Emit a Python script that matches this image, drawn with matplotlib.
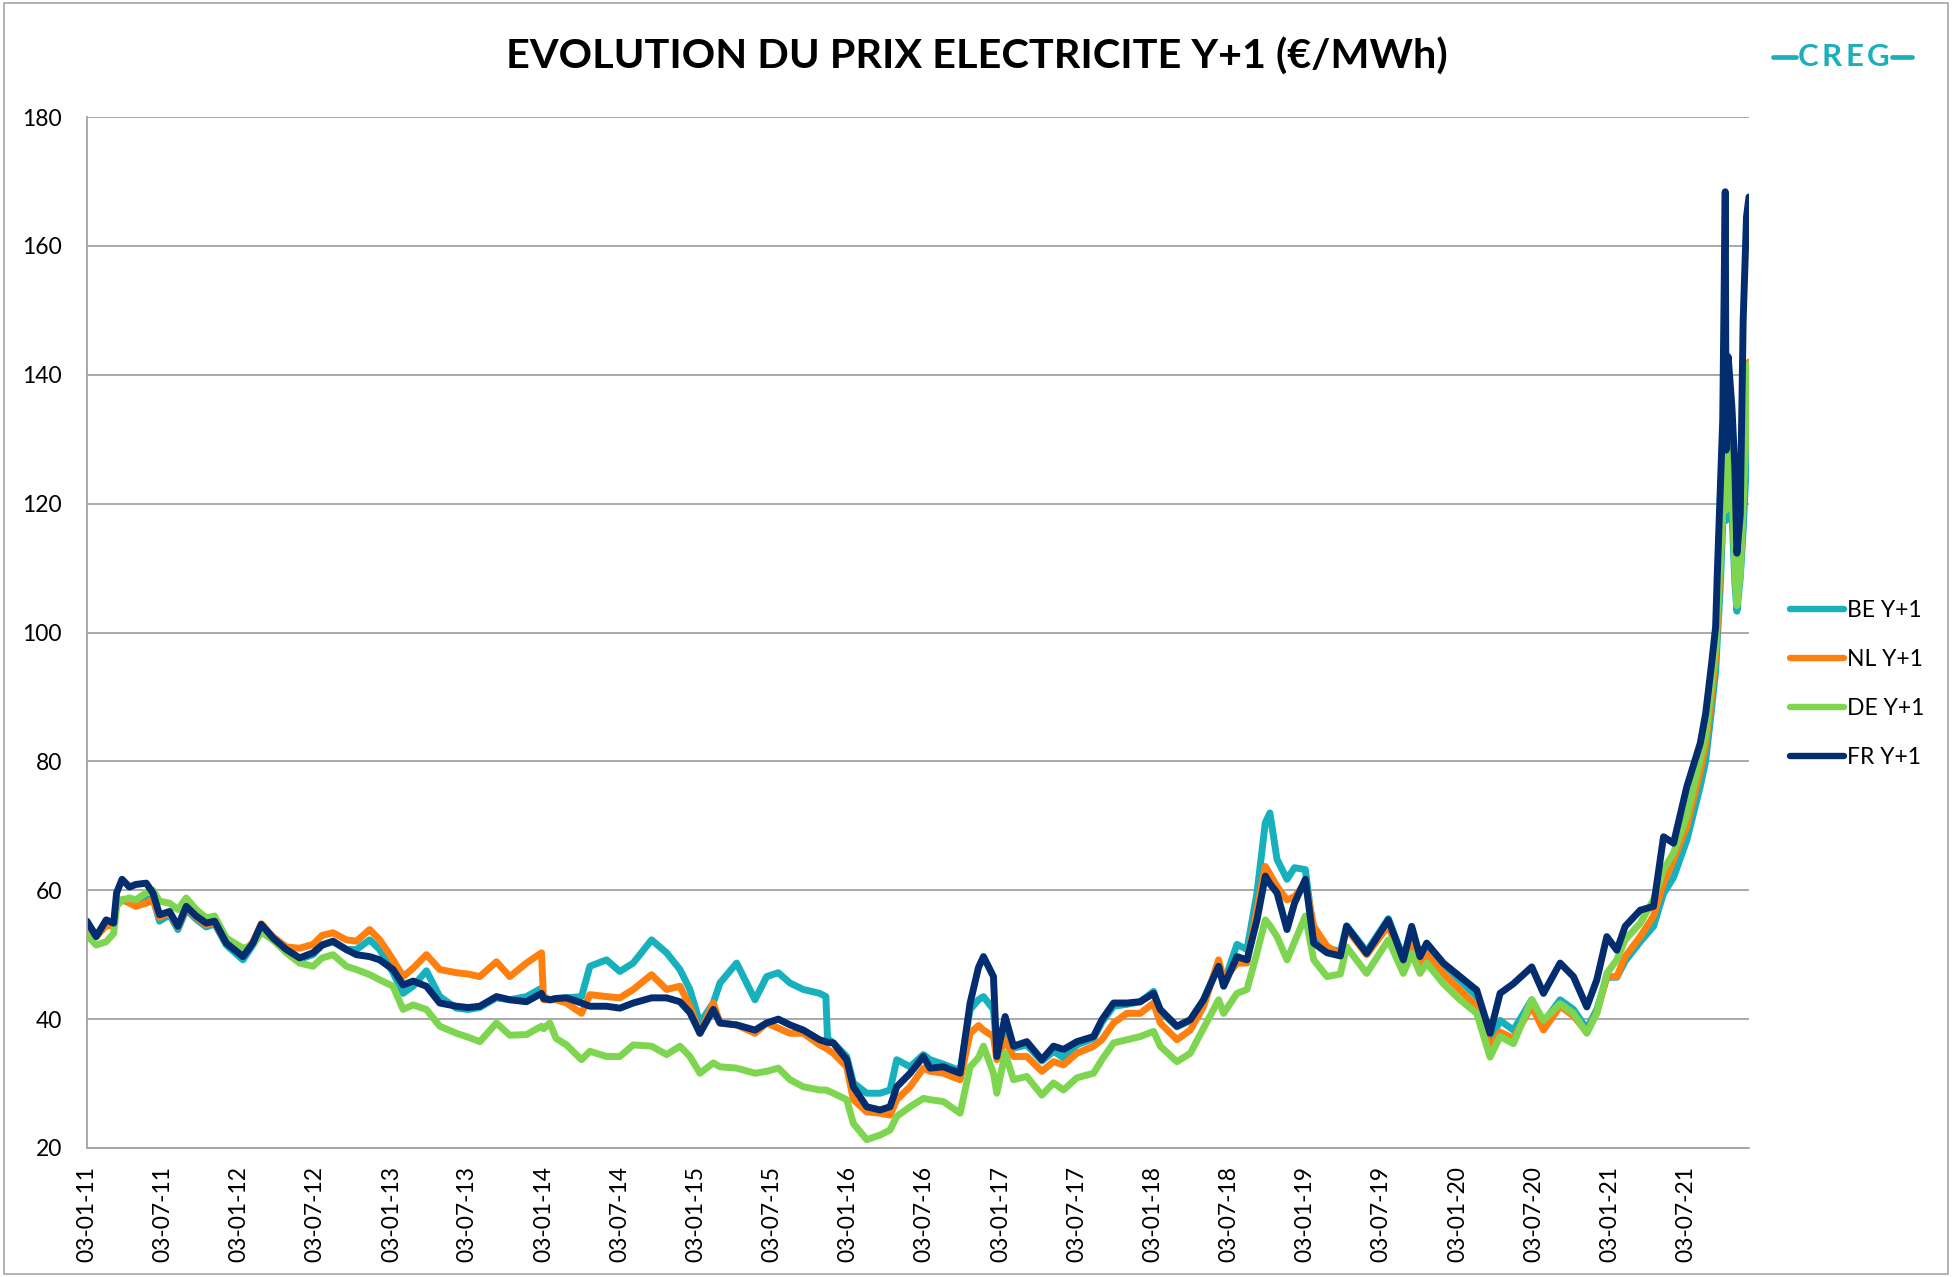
import matplotlib
matplotlib.use("Agg")
import matplotlib.pyplot as plt
import matplotlib.dates as mdates
from matplotlib.lines import Line2D
from matplotlib.patches import Rectangle
import pandas as pd

plt.rcParams['font.family'] = ['Lato', 'DejaVu Sans']

# ---------------- data ----------------
dates = [
    "2011-01-03", "2011-01-25", "2011-02-18", "2011-03-08", "2011-03-15", "2011-03-28",
    "2011-04-15", "2011-04-30", "2011-05-25", "2011-06-10", "2011-06-26", "2011-07-20",
    "2011-08-09", "2011-08-29", "2011-09-22", "2011-10-16", "2011-11-05", "2011-12-03",
    "2012-01-12", "2012-02-05", "2012-02-25", "2012-03-24", "2012-04-25", "2012-05-27",
    "2012-06-28", "2012-07-20", "2012-08-15", "2012-09-16", "2012-10-10", "2012-11-11",
    "2012-12-05", "2013-01-06", "2013-01-30", "2013-02-23", "2013-03-27", "2013-04-28",
    "2013-06-07", "2013-07-05", "2013-08-02", "2013-09-11", "2013-10-13", "2013-11-22",
    "2013-12-28", "2014-01-02", "2014-01-17", "2014-02-01", "2014-02-26", "2014-04-03",
    "2014-04-23", "2014-06-02", "2014-07-04", "2014-08-05", "2014-09-18", "2014-10-24",
    "2014-11-25", "2014-12-19", "2015-01-12", "2015-02-13", "2015-03-01", "2015-04-10",
    "2015-05-24", "2015-06-21", "2015-07-19", "2015-08-16", "2015-09-17", "2015-10-26",
    "2015-11-10", "2015-11-14", "2015-11-28", "2015-12-30", "2016-01-15", "2016-02-16",
    "2016-03-19", "2016-04-12", "2016-04-28", "2016-05-30", "2016-07-01", "2016-07-17",
    "2016-08-18", "2016-09-27", "2016-10-21", "2016-11-10", "2016-11-22", "2016-12-16",
    "2016-12-24", "2017-01-13", "2017-02-02", "2017-03-06", "2017-04-11", "2017-05-09",
    "2017-06-02", "2017-07-04", "2017-08-13", "2017-09-02", "2017-09-30", "2017-11-01",
    "2017-12-03", "2018-01-04", "2018-01-20", "2018-03-01", "2018-04-02", "2018-05-04",
    "2018-06-09", "2018-06-21", "2018-07-23", "2018-08-16", "2018-09-09", "2018-09-29",
    "2018-10-10", "2018-10-27", "2018-11-20", "2018-12-08", "2019-01-03", "2019-01-23",
    "2019-02-24", "2019-03-28", "2019-04-12", "2019-05-30", "2019-07-21", "2019-08-26",
    "2019-09-15", "2019-10-05", "2019-10-21", "2019-11-30", "2020-01-09", "2020-02-18",
    "2020-03-21", "2020-04-14", "2020-05-16", "2020-06-29", "2020-07-27", "2020-09-05",
    "2020-10-07", "2020-11-08", "2020-12-02", "2020-12-26", "2021-01-19", "2021-02-08",
    "2021-03-16", "2021-04-17", "2021-05-11", "2021-06-04", "2021-07-06", "2021-08-07",
    "2021-08-20", "2021-09-03", "2021-09-13", "2021-09-17", "2021-09-24", "2021-09-30",
    "2021-10-06", "2021-10-08", "2021-10-13", "2021-10-22", "2021-10-29", "2021-11-03",
    "2021-11-11", "2021-11-18", "2021-11-26", "2021-12-02",
]

be_y1 = [
    55.0, 53.0, 55.0, 54.5, 58.0, 58.5, 58.5, 58.0, 58.5, 58.8, 55.2, 56.2,
    53.9, 57.0, 55.5, 54.3, 54.8, 51.5, 49.2, 51.5, 54.0, 52.3, 50.6, 49.3,
    50.0, 51.5, 52.0, 50.8, 50.8, 52.3, 50.8, 47.2, 44.0, 45.1, 47.5, 43.5,
    41.7, 41.5, 41.8, 43.3, 43.0, 43.5, 44.8, 43.5, 43.0, 43.2, 43.3, 43.5,
    48.2, 49.2, 47.4, 48.7, 52.3, 50.3, 47.7, 44.6, 39.4, 42.5, 45.6, 48.7,
    43.0, 46.6, 47.2, 45.6, 44.6, 44.0, 43.5, 37.0, 36.3, 34.2, 30.1, 28.5,
    28.5, 29.0, 33.7, 32.6, 34.5, 33.7, 33.0, 32.0, 41.5, 43.0, 43.5, 41.5,
    35.0, 38.5, 35.5, 36.0, 33.5, 35.0, 34.0, 36.0, 37.0, 39.5, 42.0, 42.3,
    42.7, 44.3, 41.2, 38.8, 39.8, 43.0, 48.5, 45.5, 51.6, 50.8, 59.6, 70.5,
    72.0, 64.8, 61.7, 63.5, 63.2, 53.0, 51.0, 50.5, 54.5, 50.5, 55.6, 49.5,
    54.0, 49.5, 51.5, 48.5, 46.0, 43.5, 36.5, 39.8, 38.3, 43.0, 39.5, 43.0,
    41.5, 38.5, 41.5, 46.5, 46.5, 49.0, 52.0, 54.4, 59.5, 62.0, 67.8, 76.1,
    80.0, 88.0, 94.0, 99.0, 107.0, 117.0, 128.0, 117.4, 121.0, 119.0, 108.0, 103.3,
    108.5, 116.0, 126.6, 133.6,
]

nl_y1 = [
    54.5, 52.8, 54.5, 54.5, 58.0, 58.5, 58.0, 57.5, 58.0, 58.5, 55.8, 56.5,
    54.3, 57.3, 55.8, 54.6, 55.0, 51.8, 50.0, 52.0, 54.8, 52.8, 51.2, 51.0,
    51.6, 53.0, 53.4, 52.3, 52.1, 53.9, 52.3, 49.2, 46.6, 47.9, 50.0, 47.7,
    47.2, 47.0, 46.6, 48.9, 46.6, 48.7, 50.3, 43.0, 43.0, 43.0, 42.5, 40.9,
    43.8, 43.5, 43.3, 44.6, 46.9, 44.6, 45.1, 42.0, 37.8, 42.5, 39.4, 39.1,
    37.8, 39.4, 38.6, 37.8, 37.8, 36.0, 35.5, 35.3, 34.7, 32.6, 27.5, 25.6,
    25.4, 25.1, 27.5, 29.5, 32.4, 31.9, 31.6, 30.6, 37.8, 39.0, 38.3, 37.3,
    33.7, 36.8, 34.2, 34.2, 31.9, 33.4, 32.9, 34.7, 35.8, 36.8, 39.4, 40.9,
    40.9, 42.5, 39.4, 36.8, 38.3, 42.0, 49.2, 46.1, 48.7, 48.7, 57.0, 63.7,
    62.5, 60.6, 58.5, 59.0, 61.1, 54.4, 51.3, 50.0, 54.0, 50.0, 54.5, 48.5,
    51.5, 48.5, 50.0, 47.0, 44.5, 42.0, 35.5, 38.0, 37.0, 42.0, 38.3, 42.0,
    40.5, 38.0, 41.0, 46.6, 46.6, 49.7, 52.8, 56.0, 61.1, 64.7, 70.0, 78.5,
    82.5, 90.0, 96.0, 101.0, 110.0, 121.0, 134.0, 120.0, 128.0, 124.0, 112.0, 105.0,
    110.0, 122.0, 135.0, 142.0,
]

de_y1 = [
    53.0, 51.5, 52.0, 53.3, 57.5, 58.5, 58.8, 58.5, 59.6, 60.0, 58.3, 58.0,
    57.0, 58.8, 57.0, 55.7, 56.0, 52.6, 51.0, 51.5, 53.5, 52.3, 50.3, 48.7,
    48.2, 49.5, 50.0, 48.2, 47.7, 46.9, 46.1, 45.1, 41.5, 42.2, 41.5, 38.9,
    37.8, 37.2, 36.5, 39.4, 37.5, 37.6, 38.9, 38.5, 39.4, 37.0, 36.0, 33.7,
    35.0, 34.2, 34.2, 36.0, 35.8, 34.5, 35.8, 34.2, 31.6, 33.2, 32.6, 32.4,
    31.6, 31.9, 32.4, 30.6, 29.5, 29.0, 29.0, 28.9, 28.5, 27.5, 23.8, 21.3,
    22.0, 22.8, 24.9, 26.4, 27.7, 27.5, 27.2, 25.4, 32.6, 34.0, 35.8, 31.6,
    28.5, 34.7, 30.6, 31.1, 28.2, 30.1, 29.0, 30.9, 31.6, 33.7, 36.3, 36.8,
    37.3, 38.1, 35.8, 33.4, 34.7, 38.6, 43.0, 40.9, 44.0, 44.6, 50.3, 55.4,
    54.5, 52.8, 49.2, 52.0, 56.0, 49.2, 46.6, 47.0, 51.2, 47.1, 52.3, 47.1,
    50.2, 47.1, 48.7, 45.5, 43.0, 40.9, 34.1, 37.3, 36.2, 43.0, 39.8, 42.4,
    40.9, 37.8, 40.9, 47.1, 49.2, 52.3, 54.9, 58.5, 63.2, 65.8, 71.5, 80.3,
    84.0, 92.0, 97.5, 103.0, 111.0, 119.0, 128.0, 119.0, 129.8, 124.0, 110.0, 104.2,
    109.3, 120.0, 133.0, 141.7,
]

fr_y1 = [
    55.2, 52.8, 55.4, 54.9, 59.6, 61.7, 60.5, 60.9, 61.1, 59.6, 56.2, 56.7,
    54.4, 57.5, 56.0, 54.9, 55.2, 51.8, 49.7, 51.8, 54.7, 52.6, 50.8, 49.5,
    50.3, 51.5, 52.1, 50.8, 50.0, 49.7, 49.2, 47.7, 45.3, 45.9, 45.1, 42.5,
    42.0, 41.8, 42.0, 43.5, 43.0, 42.7, 44.0, 43.2, 43.0, 43.2, 43.3, 42.5,
    42.0, 42.0, 41.7, 42.5, 43.3, 43.3, 42.7, 41.0, 37.8, 41.5, 39.4, 39.1,
    38.3, 39.4, 40.0, 39.1, 38.3, 36.8, 36.5, 36.4, 36.3, 33.7, 29.5, 26.4,
    25.9, 26.4, 29.5, 31.6, 34.2, 32.4, 32.6, 31.6, 42.5, 48.0, 49.7, 46.6,
    34.2, 40.4, 35.8, 36.5, 33.7, 35.8, 35.3, 36.5, 37.3, 39.9, 42.5, 42.5,
    42.7, 44.0, 41.5, 38.9, 39.9, 43.0, 48.2, 45.1, 49.7, 49.2, 55.4, 62.2,
    61.0, 59.6, 53.9, 58.0, 61.7, 51.8, 50.3, 49.8, 54.4, 50.2, 55.4, 49.2,
    54.4, 49.7, 51.8, 48.7, 46.6, 44.5, 37.8, 44.0, 45.5, 48.1, 44.0, 48.7,
    46.6, 41.9, 46.1, 52.8, 50.7, 54.4, 56.9, 57.5, 68.3, 67.3, 76.1, 82.8,
    87.4, 95.0, 100.9, 109.2, 122.0, 133.0, 168.4, 128.3, 142.8, 135.0, 125.7, 112.3,
    118.3, 148.4, 164.5, 167.6,
]

series_names = ["BE Y+1", "NL Y+1", "DE Y+1", "FR Y+1"]
series_colors = ["#16B1BD", "#FF7F0F", "#7ED650", "#032D6F"]
y_ticks = [20, 40, 60, 80, 100, 120, 140, 160, 180]
x_tick_dates = [f"{yr}-{mo:02d}-03" for yr in range(2011, 2022) for mo in (1, 7)]
title_text = "EVOLUTION DU PRIX ELECTRICITE Y+1 (\u20ac/MWh)"

# ---------------- figure ----------------
W, H = 1956, 1277
fig = plt.figure(figsize=(W / 100, H / 100), dpi=100)
fig.patch.set_facecolor("white")

ax = fig.add_axes([87 / W, 1 - 1148 / H, (1749 - 87) / W, (1148 - 117) / H])

x = pd.to_datetime(dates)
LW = 5.0
handles = []
for vals, name, col in zip([be_y1, nl_y1, de_y1, fr_y1], series_names, series_colors):
    ln, = ax.plot(x, vals, color=col, lw=LW, label=name,
                  solid_capstyle="round", solid_joinstyle="round")
    handles.append(ln)

ax.set_ylim(20, 180)
ax.set_yticks(y_ticks)
ax.set_xlim(pd.Timestamp("2011-01-03"), x[-1])

ax.set_xticks(pd.to_datetime(x_tick_dates))
ax.xaxis.set_major_formatter(mdates.DateFormatter("%d-%m-%y"))

grid_col = "#A3A3A3"
ax.yaxis.grid(True, color=grid_col, lw=1.3)
ax.xaxis.grid(False)
ax.set_axisbelow(True)
for s in ["top", "right"]:
    ax.spines[s].set_visible(False)
for s in ["left", "bottom"]:
    ax.spines[s].set_color(grid_col)
    ax.spines[s].set_linewidth(1.3)

ax.tick_params(axis="both", length=0, labelsize=16.5, colors="black")
ax.tick_params(axis="y", pad=18)
ax.tick_params(axis="x", pad=13, labelrotation=90)

# legend
leg = ax.legend(handles=handles, loc="upper left",
                bbox_to_anchor=(1790 / W, 1 - 600 / H), bbox_transform=fig.transFigure,
                frameon=False, fontsize=16.5, handlelength=2.35, handletextpad=0.12,
                labelspacing=1.22, borderpad=0, borderaxespad=0)
for lh in leg.get_lines():
    lh.set_linewidth(4.6)
    lh.set_solid_capstyle("round")

# title (auto-fit to the reference width)
t = fig.text(977 / W, 1 - 57 / H, title_text, ha="center", va="center",
             fontsize=30, fontweight="bold", color="black")
fig.canvas.draw()
bb = t.get_window_extent(renderer=fig.canvas.get_renderer())
t.set_fontsize(30 * 940 / bb.width)

# CREG logo
creg_col = "#1AAFBB"
for letter, cx in zip("CREG", [1808, 1832, 1855, 1878]):
    fig.text(cx / W, 1 - 57 / H, letter, ha="center", va="center",
             fontsize=22.5, fontweight="bold", color=creg_col)
for x0, x1 in [(1773, 1796), (1892, 1912)]:
    fig.add_artist(Line2D([x0 / W, x1 / W], [1 - 57 / H, 1 - 57 / H],
                          transform=fig.transFigure, color=creg_col, lw=3.4,
                          solid_capstyle="round"))

# outer chart border
fig.add_artist(Rectangle((4 / W, 3 / H), (1948 - 4) / W, (1274 - 3) / H,
                         transform=fig.transFigure, fill=False,
                         edgecolor="#A6A6A6", lw=1.2))

fig.savefig("out.png", dpi=100)
